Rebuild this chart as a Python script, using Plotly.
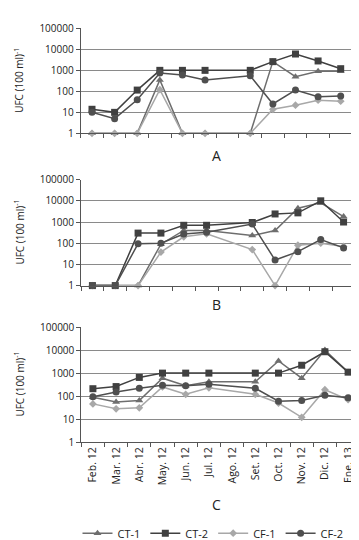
import plotly.graph_objects as go

months = ["Feb. 12", "Mar. 12", "Abr. 12", "May. 12", "Jun. 12", "Jul. 12",
          "Ago. 12", "Set. 12", "Oct. 12", "Nov. 12", "Dic. 12", "Ene. 13"]

# Panel A
ct1_a = [1, 1, 1, 350, 1, 1, None, 1, 2600, 500, 900, 900]
ct2_a = [14, 10, 115, 1000, 1000, 1000, None, 1000, 2600, 6000, 2800, 1200]
cf1_a = [1, 1, 1, 120, 1, 1, None, 1, 14, 22, 38, 34]
cf2_a = [10, 5, 40, 750, 600, 350, None, 550, 25, 115, 55, 60]

# Panel B
ct1_b = [1, 1, 1, 90, 400, 400, None, 230, 400, 4500, 8000, 1800]
ct2_b = [1, 1, 300, 300, 700, 700, None, 950, 2400, 2700, 10000, 1000]
cf1_b = [1, 1, 1, 38, 200, 280, None, 50, 1, 80, 100, 70]
cf2_b = [1, 1, 95, 100, 270, 330, None, 800, 16, 40, 150, 60]

# Panel C
ct1_c = [90, 55, 65, 600, 280, 420, None, 420, 3400, 600, 10000, 1100]
ct2_c = [210, 260, 650, 1000, 1000, 1000, None, 1000, 1000, 2200, 8500, 1100]
cf1_c = [46, 28, 31, 250, 120, 230, None, 120, 50, 12, 190, 70]
cf2_c = [93, 150, 220, 300, 280, 330, None, 220, 60, 65, 110, 85]

series_names = ["CT-1", "CT-2", "CF-1", "CF-2"]
panel_labels = ["A", "B", "C"]
y_ticks = [1, 10, 100, 1000, 10000, 100000]

panels = [
    [ct1_a, ct2_a, cf1_a, cf2_a],
    [ct1_b, ct2_b, cf1_b, cf2_b],
    [ct1_c, ct2_c, cf1_c, cf2_c],
]

styles = {
    "CT-1": dict(color="#6e6e6e", symbol="triangle-up", size=7),
    "CT-2": dict(color="#404040", symbol="square", size=7),
    "CF-1": dict(color="#a8a8a8", symbol="diamond", size=6),
    "CF-2": dict(color="#4f4f4f", symbol="circle", size=7),
}

W, H = 359, 540
# plot-area pixel boxes (left, right, top, bottom)
boxes = [
    (72.7, 344.0, 12.7, 120.7),
    (73.0, 347.0, 168.3, 277.3),
    (73.3, 351.7, 320.0, 438.3),
]

fig = go.Figure()
font_family = "Open Sans"

for i, (data, box) in enumerate(zip(panels, boxes)):
    xa = "x" if i == 0 else f"x{i+1}"
    ya = "y" if i == 0 else f"y{i+1}"
    for name, vals in zip(series_names, data):
        st = styles[name]
        fig.add_trace(go.Scatter(
            x=months, y=vals, name=name, mode="lines+markers",
            connectgaps=True, cliponaxis=False,
            line=dict(color=st["color"], width=1.5),
            marker=dict(color=st["color"], symbol=st["symbol"], size=st["size"]),
            showlegend=(i == 0), legendgroup=name,
            xaxis=xa, yaxis=ya,
        ))
    l, r, t, b = box
    xdom = [l / W, r / W]
    ydom = [1 - b / H, 1 - t / H]
    xkey = "xaxis" if i == 0 else f"xaxis{i+1}"
    ykey = "yaxis" if i == 0 else f"yaxis{i+1}"
    fig.layout[xkey] = dict(
        domain=xdom, anchor=ya, type="category",
        categoryorder="array", categoryarray=months,
        range=[-0.5, 11.5],
        showline=True, linecolor="#555555", linewidth=1,
        ticks="outside", tickson="boundaries", ticklen=4, tickcolor="#555555",
        showgrid=False, showticklabels=(i == 2), tickangle=-90,
        tickfont=dict(size=10.5, color="#222222", family=font_family),
    )
    fig.layout[ykey] = dict(
        domain=ydom, anchor=xa, type="log", range=[0, 5],
        tickvals=y_ticks, ticktext=[str(v) for v in y_ticks],
        showline=True, linecolor="#555555", linewidth=1,
        ticks="outside", ticklen=4, tickcolor="#555555",
        showgrid=True, gridcolor="#8a8a8a", gridwidth=1,
        zeroline=False,
        tickfont=dict(size=10, color="#222222", family=font_family),
    )
    # Y title
    fig.add_annotation(
        text="UFC (100 ml)<sup>-1</sup>", textangle=-90,
        xref="paper", yref="paper", x=11 / W, y=1 - ((t + b) / 2) / H,
        showarrow=False, xanchor="center", yanchor="middle",
        font=dict(size=10, color="#222222", family=font_family),
    )

# Panel letters
for lab, ypx in zip(panel_labels, [143, 297, 502]):
    fig.add_annotation(
        text=lab, xref="paper", yref="paper", x=208 / W, y=1 - ypx / H,
        showarrow=False, xanchor="center", yanchor="middle",
        font=dict(size=14, color="#222222", family=font_family),
    )

fig.update_layout(
    width=W, height=H,
    margin=dict(l=0, r=0, t=0, b=0),
    paper_bgcolor="white", plot_bgcolor="white",
    font=dict(family=font_family, color="#222222"),
    showlegend=True,
    legend=dict(
        orientation="h", x=205 / W, y=1 - 532 / H,
        xanchor="center", yanchor="middle",
        font=dict(size=11, family=font_family, color="#222222"),
        itemwidth=30, tracegroupgap=0,
        bgcolor="rgba(0,0,0,0)",
    ),
)

fig.write_html("out.html")
